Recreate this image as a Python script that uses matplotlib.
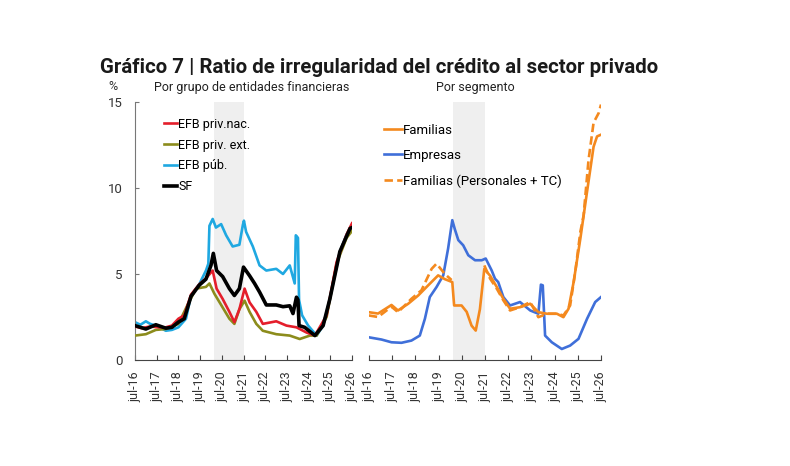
import numpy as np
import matplotlib
matplotlib.use('Agg')
import matplotlib.pyplot as plt

plt.rcParams['font.family'] = ['Roboto', 'DejaVu Sans']

# --- left panel: por grupo de entidades financieras ---
pub_x = [2016.50, 2016.75, 2017.00, 2017.20, 2017.46, 2017.70, 2017.92, 2018.20, 2018.50, 2018.85,
         2019.08, 2019.46, 2019.77, 2019.88, 2019.93, 2020.08, 2020.23, 2020.47, 2020.70, 2021.00,
         2021.31, 2021.47, 2021.52, 2021.62, 2021.93, 2022.24, 2022.55, 2023.01, 2023.32, 2023.63,
         2023.86, 2023.91, 2024.01, 2024.06, 2024.20, 2024.48, 2024.87, 2025.17, 2025.48, 2025.94,
         2026.25, 2026.50]
pub_y = [2.2, 2.05, 2.25, 2.1, 2.0, 1.85, 1.7, 1.75, 1.9, 2.4,
         3.75, 4.4, 5.2, 5.6, 7.8, 8.2, 7.7, 7.9, 7.25, 6.6,
         6.7, 7.85, 8.1, 7.45, 6.6, 5.5, 5.2, 5.3, 5.0, 5.5,
         4.45, 7.25, 7.1, 3.5, 2.6, 2.0, 1.42, 2.0, 3.55, 6.3,
         7.3, 7.8]

sf_x = [2016.50, 2016.75, 2017.00, 2017.46, 2017.92, 2018.20, 2018.50, 2018.77, 2019.08, 2019.46,
        2019.77, 2020.00, 2020.11, 2020.26, 2020.54, 2020.85, 2021.08, 2021.31, 2021.50, 2021.78,
        2022.01, 2022.24, 2022.55, 2023.01, 2023.32, 2023.63, 2023.78, 2023.94, 2024.01, 2024.06,
        2024.32, 2024.79, 2025.17, 2025.48, 2025.94, 2026.41, 2026.50]
sf_y = [2.0, 1.9, 1.8, 2.05, 1.85, 1.9, 2.2, 2.4, 3.7, 4.35,
        4.7, 5.5, 6.2, 5.2, 4.85, 4.15, 3.75, 4.15, 5.4, 4.9,
        4.45, 3.95, 3.2, 3.2, 3.1, 3.15, 2.7, 3.65, 3.5, 2.0,
        1.9, 1.42, 2.0, 3.55, 6.3, 7.65, 7.7]

nac_x = [2016.50, 2016.80, 2017.20, 2017.60, 2017.92, 2018.20, 2018.50, 2018.77, 2019.08, 2019.46,
         2019.77, 2020.08, 2020.26, 2020.54, 2020.85, 2021.08, 2021.31, 2021.55, 2021.78, 2022.09,
         2022.39, 2023.01, 2023.48, 2023.94, 2024.40, 2024.79, 2025.33, 2025.79, 2026.25, 2026.50]
nac_y = [1.95, 1.85, 1.95, 1.9, 1.9, 2.0, 2.4, 2.6, 3.8, 4.4,
         4.75, 5.2, 4.15, 3.55, 2.8, 2.2, 2.95, 4.15, 3.35, 2.8,
         2.1, 2.25, 2.0, 1.9, 1.6, 1.42, 2.6, 5.7, 7.3, 7.95]

ext_x = [2016.50, 2017.00, 2017.46, 2017.92, 2018.50, 2018.92, 2019.31, 2019.77, 2019.93, 2020.16,
         2020.47, 2020.85, 2021.08, 2021.31, 2021.55, 2021.78, 2022.09, 2022.39, 2023.01, 2023.63,
         2024.09, 2024.56, 2024.87, 2025.33, 2025.79, 2026.25, 2026.50]
ext_y = [1.42, 1.5, 1.75, 1.8, 2.1, 3.2, 4.15, 4.25, 4.45, 3.85,
         3.2, 2.4, 2.1, 2.95, 3.45, 2.8, 2.1, 1.7, 1.5, 1.42,
         1.22, 1.42, 1.42, 2.5, 5.6, 7.1, 7.5]

# --- right panel: por segmento ---
emp_x = [2016.49, 2017.04, 2017.47, 2017.90, 2018.33, 2018.69, 2018.91, 2019.12, 2019.41, 2019.70,
         2019.91, 2020.09, 2020.20, 2020.35, 2020.56, 2020.78, 2021.07, 2021.36, 2021.53, 2021.79,
         2021.93, 2022.07, 2022.29, 2022.58, 2023.01, 2023.45, 2023.80, 2023.91, 2023.99, 2024.09,
         2024.38, 2024.81, 2025.17, 2025.53, 2025.90, 2026.25, 2026.50]
emp_y = [1.32, 1.19, 1.03, 1.0, 1.13, 1.42, 2.4, 3.66, 4.24, 4.92,
         6.48, 8.13, 7.6, 6.97, 6.67, 6.09, 5.8, 5.8, 5.9, 5.2,
         4.73, 4.53, 3.66, 3.17, 3.37, 2.88, 2.69, 4.38, 4.34, 1.42,
         1.03, 0.64, 0.84, 1.23, 2.4, 3.37, 3.66]

fam_x = [2016.49, 2016.89, 2017.47, 2017.75, 2018.19, 2018.62, 2019.05, 2019.48, 2019.77, 2020.09,
         2020.17, 2020.49, 2020.71, 2020.92, 2021.10, 2021.28, 2021.47, 2021.72, 2022.01, 2022.29,
         2022.58, 2023.01, 2023.45, 2023.80, 2024.17, 2024.60, 2024.88, 2025.10, 2025.32, 2025.61,
         2025.90, 2026.18, 2026.33, 2026.50]
fam_y = [2.78, 2.7, 3.2, 2.88, 3.27, 3.75, 4.34, 4.92, 4.7, 4.53,
         3.17, 3.17, 2.8, 2.0, 1.71, 2.95, 5.3, 4.9, 4.24, 3.56,
         2.98, 3.07, 3.27, 2.78, 2.69, 2.69, 2.49, 2.98, 4.53, 7.06,
         9.8, 12.4, 13.0, 13.1]

tc_x = [2016.49, 2016.89, 2017.47, 2017.75, 2018.33, 2018.76, 2019.20, 2019.41, 2019.77, 2020.06,
        2020.07, 2021.44, 2021.47, 2021.72, 2022.01, 2022.29, 2022.58, 2023.01, 2023.45, 2023.80,
        2024.17, 2024.60, 2024.88, 2025.17, 2025.39, 2025.61, 2025.75, 2025.96, 2026.18, 2026.40,
        2026.50]
tc_y = [2.59, 2.5, 3.1, 2.78, 3.56, 4.05, 5.3, 5.6, 5.0, 4.65,
        np.nan, np.nan, 5.5, 4.73, 4.14, 3.47, 2.88, 3.07, 3.37, 2.49,
        2.69, 2.69, 2.59, 3.17, 5.12, 7.45, 8.4, 11.6, 13.8, 14.36,
        14.85]

shade = (2020.12, 2021.52)
tick_years = np.arange(2016.5, 2027, 1)
tick_labels = ['jul-%d' % (y % 100) for y in range(2016, 2027)]

fig = plt.figure(figsize=(7.9, 4.66), dpi=100)
axl = fig.add_axes([135 / 790, 106 / 466, 217 / 790, 258 / 466])
axr = fig.add_axes([369 / 790, 106 / 466, 232 / 790, 258 / 466])

for ax in (axl, axr):
    ax.axvspan(*shade, color='#efefef', lw=0, zorder=0)
    ax.set_xlim(2016.5, 2026.5)
    ax.set_ylim(0, 15)
    ax.set_xticks(tick_years)
    ax.set_xticklabels(tick_labels, rotation=90, fontsize=9, color='#333333')
    ax.tick_params(axis='x', direction='in', length=3.5, pad=8, color='#444444')
    ax.spines['top'].set_visible(False)
    ax.spines['right'].set_visible(False)
    ax.spines['bottom'].set_color('#444444')
    ax.spines['bottom'].set_linewidth(0.8)
    ax.patch.set_alpha(0)

axl.spines['left'].set_color('#777777')
axl.spines['left'].set_linewidth(0.8)
axl.set_yticks([0, 5, 10, 15])
axl.tick_params(axis='y', direction='in', length=3, pad=9, labelsize=9.5,
                labelcolor='#333333', color='#777777')
axr.spines['left'].set_visible(False)
axr.set_yticks([])

axl.plot(pub_x, pub_y, color='#1fa8e1', lw=1.9, label='EFB púb.', zorder=2)
axl.plot(ext_x, ext_y, color='#8c8c1c', lw=1.9, label='EFB priv. ext.', zorder=3)
axl.plot(nac_x, nac_y, color='#e41e2b', lw=1.9, label='EFB priv.nac.', zorder=4)
axl.plot(sf_x, sf_y, color='#000000', lw=2.6, label='SF', zorder=5)

h, l = axl.get_legend_handles_labels()
order = [2, 1, 0, 3]
axl.legend([h[i] for i in order], [l[i] for i in order], loc='upper left',
           bbox_to_anchor=(0.112, 0.958), frameon=False, fontsize=9,
           handlelength=1.0, handletextpad=0.1, labelspacing=0.62, borderaxespad=0)

axr.plot(emp_x, emp_y, color='#3f6fd9', lw=1.9, label='Empresas', zorder=2)
axr.plot(fam_x, fam_y, color='#f4891e', lw=1.9, label='Familias', zorder=3)
axr.plot(tc_x, tc_y, color='#f4891e', lw=1.9, ls=(0, (3.2, 1.6)),
         label='Familias (Personales + TC)', zorder=3)

h, l = axr.get_legend_handles_labels()
order = [1, 0, 2]
axr.legend([h[i] for i in order], [l[i] for i in order], loc='upper left',
           bbox_to_anchor=(0.04, 0.937), frameon=False, fontsize=9.5,
           handlelength=1.4, handletextpad=0.1, labelspacing=0.95, borderaxespad=0)

title = fig.text(100 / 790, 1 - 73 / 466,
                 'Gráfico 7 | Ratio de irregularidad del crédito al sector privado',
                 weight='bold', fontsize=18, color='#1a1a1a', va='baseline', ha='left')
# fit title width to the reference (about 560 px wide)
r = fig.canvas.get_renderer()
w = title.get_window_extent(r).width
title.set_fontsize(18 * 560 / w)

fig.text(113 / 790, 1 - 87 / 466, '%', fontsize=9, color='#333333', ha='center', va='center')
fig.text(252 / 790, 1 - 87 / 466, 'Por grupo de entidades financieras', fontsize=9,
         color='#222222', ha='center', va='center')
fig.text(475 / 790, 1 - 87 / 466, 'Por segmento', fontsize=9,
         color='#222222', ha='center', va='center')

fig.savefig('out.png', dpi=100)
